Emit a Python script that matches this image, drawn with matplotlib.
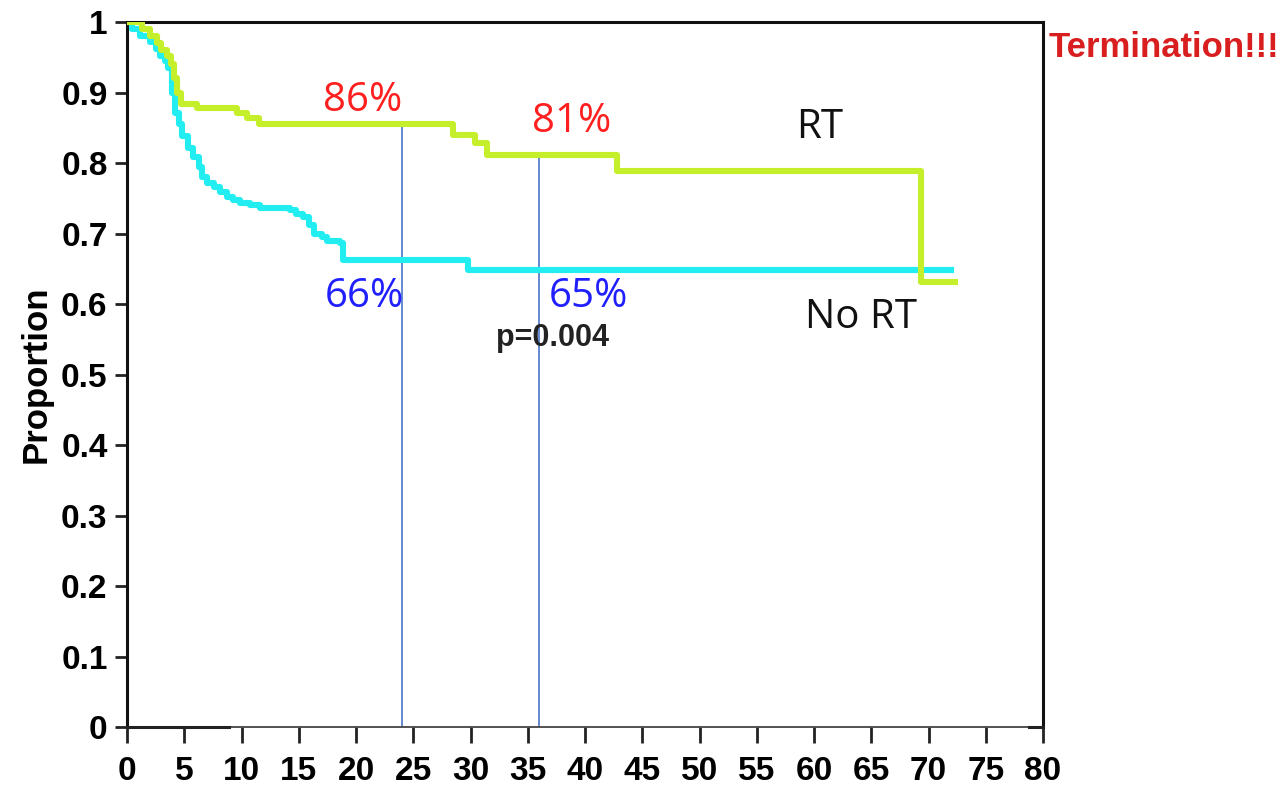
import numpy as np
import matplotlib
matplotlib.use("Agg")
import matplotlib.pyplot as plt

# Kaplan-Meier style step data (months, proportion)
rt_time = [0, 1.3, 2.0, 2.6, 3.0, 3.5, 3.8, 4.1, 4.4, 4.7, 6.1, 9.6, 10.5, 11.5,
           28.5, 30.4, 31.4, 42.8, 69.3, 72.3]
rt_prop = [1.0, 0.99, 0.98, 0.97, 0.96, 0.952, 0.94, 0.92, 0.90, 0.884, 0.878,
           0.871, 0.864, 0.856, 0.84, 0.828, 0.811, 0.789, 0.631, 0.631]

nort_time = [0, 0.4, 1.1, 2.0, 2.5, 2.9, 3.3, 3.6, 3.9, 4.2, 4.5, 4.8, 5.3, 5.8,
             6.25, 6.55, 7.0, 7.6, 8.1, 8.7, 9.3, 9.9, 10.7, 11.6, 14.2, 14.8,
             15.4, 15.9, 16.3, 17.0, 17.5, 18.6, 18.9, 29.8, 72.0]
nort_prop = [1.0, 0.99, 0.98, 0.972, 0.962, 0.952, 0.944, 0.935, 0.900, 0.871,
             0.855, 0.838, 0.822, 0.809, 0.794, 0.780, 0.772, 0.766, 0.759,
             0.752, 0.747, 0.743, 0.740, 0.736, 0.733, 0.728, 0.723, 0.712,
             0.700, 0.695, 0.690, 0.686, 0.662, 0.648, 0.648]

landmarks = [24, 36]
x_ticks = list(range(0, 81, 5))
y_ticks = [0, 0.1, 0.2, 0.3, 0.4, 0.5, 0.6, 0.7, 0.8, 0.9, 1]
y_tick_labels = ["0", "0.1", "0.2", "0.3", "0.4", "0.5", "0.6", "0.7", "0.8", "0.9", "1"]

GREEN = "#c6ef2b"
CYAN = "#22eef2"


def step_value(times, props, t):
    idx = np.searchsorted(times, t, side="right") - 1
    return props[idx]


fig = plt.figure(figsize=(12.88, 7.86), dpi=100)
ax = fig.add_axes([0.0986, 0.075, 0.7112, 0.897])

ax.step(nort_time, nort_prop, where="post", color=CYAN, lw=4.4, zorder=3)
ax.step(rt_time, rt_prop, where="post", color=GREEN, lw=4.4, zorder=4)

# landmark verticals up to the RT curve
for t in landmarks:
    ax.plot([t, t], [0, step_value(rt_time, rt_prop, t)], color="#4a74c8",
            lw=1.2, zorder=2)

# short censor-style marks on the baseline
ax.plot([0, 8.9], [0, 0], color="#222222", lw=2.2, zorder=5, clip_on=False)
ax.plot([78.8, 80], [0, 0], color="#222222", lw=2.2, zorder=5, clip_on=False)

ax.set_xlim(0, 80)
ax.set_ylim(0, 1)
ax.set_xticks(x_ticks)
ax.set_yticks(y_ticks)
ax.set_yticklabels(y_tick_labels)

for lab in ax.get_xticklabels() + ax.get_yticklabels():
    lab.set_fontfamily("Liberation Sans")
    lab.set_fontweight("bold")
    lab.set_fontsize(24)

ax.tick_params(axis="x", direction="out", length=11.5, width=2, color="#222222", pad=9)
ax.tick_params(axis="y", direction="out", length=9, width=2, color="#222222", pad=5)

for side in ["left", "top", "right"]:
    ax.spines[side].set_linewidth(2.2)
    ax.spines[side].set_color("#111111")
ax.spines["bottom"].set_linewidth(1.3)
ax.spines["bottom"].set_color("#444444")

ax.set_ylabel("Proportion", fontfamily="Liberation Sans", fontweight="bold",
              fontsize=25, labelpad=6)

label_font = "Open Sans"
ax.text(20.6, 0.889, "86%", color="#ff1f1f", fontsize=29, family=label_font,
        ha="center", va="center")
ax.text(38.8, 0.858, "81%", color="#ff1f1f", fontsize=29, family=label_font,
        ha="center", va="center")
ax.text(20.7, 0.610, "66%", color="#1f1fff", fontsize=29, family=label_font,
        ha="center", va="center")
ax.text(40.3, 0.610, "65%", color="#1f1fff", fontsize=29, family=label_font,
        ha="center", va="center")
ax.text(37.2, 0.552, "p=0.004", color="#222222", fontsize=22,
        family="Liberation Sans", weight="bold", ha="center", va="center")
ax.text(60.5, 0.850, "RT", color="#111111", fontsize=29, family=label_font,
        ha="center", va="center")
ax.text(64.1, 0.580, "No RT", color="#111111", fontsize=29, family=label_font,
        ha="center", va="center")

fig.text(0.9035, 0.939, "Termination!!!", color="#d81e1e", fontsize=25,
         family="Liberation Sans", weight="bold", ha="center", va="center")

fig.savefig("out.png", dpi=100, facecolor="white")
